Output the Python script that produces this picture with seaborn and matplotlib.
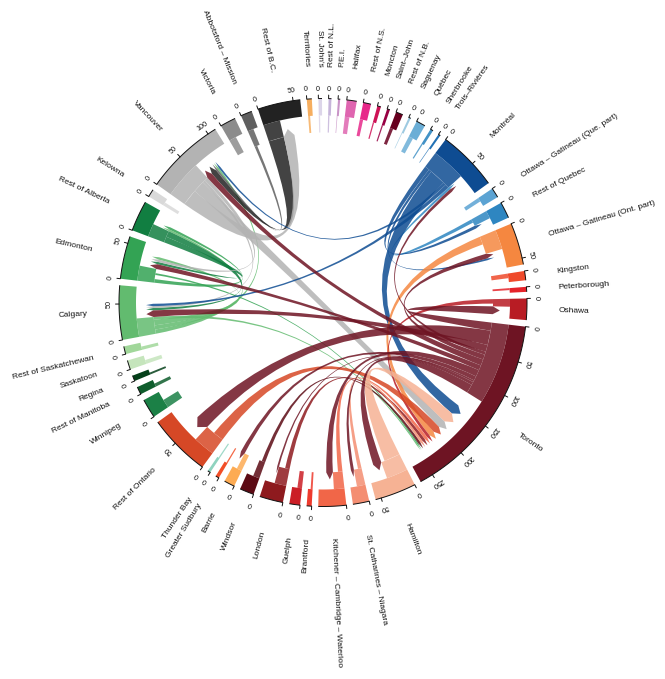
import numpy as np
import seaborn as sns
import matplotlib.pyplot as plt
from matplotlib.path import Path
from matplotlib.patches import PathPatch

# sectors, clockwise from Toronto
sectors = ["Toronto", "Hamilton", "St. Catharines – Niagara", "Kitchener – Cambridge – Waterloo",
           "Brantford", "Guelph", "London", "Windsor", "Barrie", "Greater Sudbury", "Thunder Bay",
           "Rest of Ontario", "Winnipeg", "Rest of Manitoba", "Regina", "Saskatoon",
           "Rest of Saskatchewan", "Calgary", "Edmonton", "Rest of Alberta", "Kelowna", "Vancouver",
           "Victoria", "Abbotsford – Mission", "Rest of B.C.", "Territories", "St. John's",
           "Rest of N.L.", "P.E.I.", "Halifax", "Rest of N.S.", "Moncton", "Saint–John", "Rest of N.B.",
           "Saguenay", "Québec", "Sherbrooke", "Trois–Rivières", "Montréal",
           "Ottawa – Gatineau (Que. part)", "Rest of Quebec", "Ottawa – Gatineau (Ont. part)",
           "Kingston", "Peterborough", "Oshawa"]
totals = [269, 58, 23, 39, 7, 15, 33, 20, 15, 5, 4, 88, 27, 11, 8, 13, 11, 76, 60, 43, 11, 112,
          22, 16, 60, 7, 5, 4, 3, 14, 11, 5, 4, 10, 3, 13, 4, 3, 85, 14, 23, 59, 13, 7, 30]
outflow = [124, 33, 13, 16, 3, 7, 18, 10, 8, 2, 2, 33, 13, 5, 3, 6, 5, 28, 23, 20, 5, 58,
           11, 9, 26, 3, 2, 2, 1, 7, 5, 2, 2, 5, 1, 7, 2, 1, 52, 6, 12, 30, 7, 3, 12]
hex_colors = ["#6E1423", "#F6B294", "#F48E72", "#F16648", "#EE3A2D", "#CB1E26", "#8E1A1E", "#5C0A14",
              "#FDAB53", "#F24E27", "#8FD3BF", "#D64826", "#1B8046", "#0E5D2C", "#05401A", "#C5E5BC",
              "#A1D79A", "#62BB6F", "#33A354", "#117E41", "#D9D9D9", "#B3B3B3", "#8C8C8C", "#5F5F5F",
              "#222222", "#F6AE5F", "#DCD5E9", "#C6B5DA", "#C994C7", "#DF65B0", "#E7298A", "#CE1256",
              "#980043", "#67001F", "#9ECAE1", "#6BAED6", "#4292C6", "#2171B5", "#0E4C92", "#5BA3D3",
              "#2E86C1", "#F58740", "#EF4A2B", "#E5232A", "#B81C24"]

link_from = ["Calgary", "Calgary", "Calgary", "Calgary",
             "Edmonton", "Edmonton",
             "Rest of Alberta", "Rest of Alberta",
             "Abbotsford – Mission", "Rest of B.C.",
             "Vancouver", "Vancouver", "Vancouver", "Vancouver",
             "Rest of Quebec",
             "Montréal", "Montréal", "Montréal", "Montréal", "Montréal",
             "Ottawa – Gatineau (Ont. part)", "Oshawa",
             "Rest of Ontario", "Windsor", "London",
             "Kitchener – Cambridge – Waterloo", "St. Catharines – Niagara", "Hamilton",
             "Toronto", "Toronto", "Toronto", "Toronto", "Toronto", "Toronto",
             "Toronto", "Toronto", "Toronto", "Toronto", "Toronto", "Toronto"]
link_to = ["Vancouver", "Rest of Alberta", "Edmonton", "Toronto",
           "Rest of Alberta", "Toronto",
           "Edmonton", "Calgary",
           "Vancouver", "Vancouver",
           "Rest of B.C.", "Toronto", "Calgary", "Edmonton",
           "Montréal",
           "Rest of Quebec", "Ottawa – Gatineau (Ont. part)", "Toronto", "Vancouver", "Calgary",
           "Toronto", "Toronto",
           "Toronto", "Toronto", "Toronto",
           "Toronto", "Toronto", "Toronto",
           "Oshawa", "Rest of Ontario", "Calgary", "Montréal", "Ottawa – Gatineau (Ont. part)", "Vancouver",
           "Edmonton", "Kitchener – Cambridge – Waterloo", "Barrie", "London",
           "St. Catharines – Niagara", "Hamilton"]
link_value = [3, 3, 4, 2,
              4, 2,
              4, 4,
              3, 9,
              18, 13, 3, 4,
              4,
              5, 3, 17, 3, 4,
              9, 5,
              12, 4, 5,
              5, 4, 18,
              13, 23, 11, 5, 8, 10,
              8, 11, 7, 3, 5, 14]

# sectors whose links share out the whole flow-out part at the root
fill_roots = ["Toronto", "Montréal", "Vancouver", "Rest of Alberta", "Calgary", "Rest of B.C."]

# order of the arrows inside a sector, clockwise
arrivals = {
    "Toronto": ["Montréal", "Hamilton", "Vancouver", "Rest of Ontario", "Ottawa – Gatineau (Ont. part)",
                "Oshawa", "Kitchener – Cambridge – Waterloo", "London", "St. Catharines – Niagara",
                "Windsor", "Edmonton", "Calgary"],
    "Montréal": ["Rest of Quebec", "Toronto"],
    "Ottawa – Gatineau (Ont. part)": ["Toronto", "Montréal"],
    "Vancouver": ["Toronto", "Rest of B.C.", "Abbotsford – Mission", "Calgary", "Montréal"],
    "Calgary": ["Toronto", "Rest of Alberta", "Vancouver", "Montréal"],
    "Edmonton": ["Toronto", "Rest of Alberta", "Vancouver", "Calgary"],
    "Rest of Alberta": ["Calgary", "Edmonton"],
}
# unused units between the flow-out part and the first arrow
arrival_skip = {"Toronto": 26}

CX, CY = 323, 302.5
R_OUT, R_RING, R_ROOT, R_TIP = 204, 187, 170, 177
GAP = 1.85
START = 6.8
ROOT_WIDEN = 1.5

sns.set_theme(style="white")
plt.rcParams["font.family"] = ["Liberation Sans", "DejaVu Sans"]
palette = dict(zip(sectors, sns.color_palette(hex_colors)))
scale = (360 - GAP * len(sectors)) / sum(totals)

starts = {}
pos = START
for name, tot in zip(sectors, totals):
    starts[name] = pos
    pos += tot * scale + GAP


def xy(r, deg):
    t = np.radians(deg)
    return CX + r * np.cos(t), CY + r * np.sin(t)


def band(ax, r0, r1, d0, d1, color):
    d = np.linspace(d0, d1, 60)
    x0, y0 = xy(r0, d)
    x1, y1 = xy(r1, d[::-1])
    ax.fill(np.r_[x0, x1], np.r_[y0, y1], color=color, lw=0)


fig = plt.figure(figsize=(6.65, 6.79), dpi=100)
ax = fig.add_axes([0, 0, 1, 1])
ax.set_xlim(0, 665)
ax.set_ylim(679, 0)
sns.despine(ax=ax, left=True, bottom=True)
ax.set_xticks([])
ax.set_yticks([])

for name, tot, out in zip(sectors, totals, outflow):
    a0 = starts[name]
    a1 = a0 + tot * scale
    col = palette[name]
    band(ax, R_RING, R_OUT, a0, a1, col)
    band(ax, R_ROOT, R_RING, a0, a0 + out * scale, (*col, 0.85))

    # axis with ticks
    d = np.linspace(a0, a1, 60)
    ax.plot(*xy(R_OUT, d), color="#111111", lw=0.7, solid_capstyle="butt")
    for v in range(0, tot + 1, 50):
        deg = a0 + v * scale
        xs, ys = zip(xy(R_OUT, deg), xy(R_OUT + 3.5, deg))
        ax.plot(xs, ys, color="#111111", lw=0.7)
        tx, ty = xy(R_OUT + 9.5, deg)
        ax.text(tx, ty, str(v), fontsize=5.2, color="#111111", ha="center", va="center",
                rotation=-deg - 90, rotation_mode="anchor")

    # radial label
    mid = (a0 + a1) / 2
    lx, ly = xy(236, mid)
    right = np.cos(np.radians(mid)) > 0
    ax.text(lx, ly, name, fontsize=6.0, color="#111111", va="center",
            ha="left" if right else "right", rotation=-mid if right else 180 - mid,
            rotation_mode="anchor")

# where each link sits inside its sectors
out_slots = {}
in_slots = {}
for name, out in zip(sectors, outflow):
    idx = [i for i, f in enumerate(link_from) if f == name]
    if idx:
        used = sum(link_value[i] for i in idx)
        cur = starts[name]
        if name in fill_roots:
            widths = [link_value[i] * out / used for i in idx]
            spare = 0
        else:
            widths = [min(link_value[i] * ROOT_WIDEN, out) for i in idx]
            spare = (out - sum(widths)) / len(idx) if len(idx) > 1 else 0
        for i, w in zip(idx, widths):
            out_slots[i] = (cur, cur + w * scale)
            cur += (w + spare) * scale

    idx = [i for i, t in enumerate(link_to) if t == name]
    if idx:
        order = arrivals.get(name, [])
        idx.sort(key=lambda i: order.index(link_from[i]) if link_from[i] in order else 99)
        cur = starts[name] + (out + arrival_skip.get(name, 0)) * scale
        for i in idx:
            in_slots[i] = (cur, cur + link_value[i] * scale)
            cur += link_value[i] * scale

for i, (src, val) in enumerate(zip(link_from, link_value)):
    s0, s1 = out_slots[i]
    e0, e1 = in_slots[i]
    verts = [xy(R_ROOT, s0), (CX, CY), xy(R_ROOT, e1), xy(R_TIP, (e0 + e1) / 2),
             xy(R_ROOT, e0), (CX, CY), xy(R_ROOT, s1), xy(R_ROOT, s0)]
    codes = [Path.MOVETO, Path.CURVE3, Path.CURVE3, Path.LINETO, Path.LINETO,
             Path.CURVE3, Path.CURVE3, Path.CLOSEPOLY]
    ax.add_patch(PathPatch(Path(verts, codes), facecolor=(*palette[src], 0.85), lw=0))

fig.savefig("out.png", dpi=100)
